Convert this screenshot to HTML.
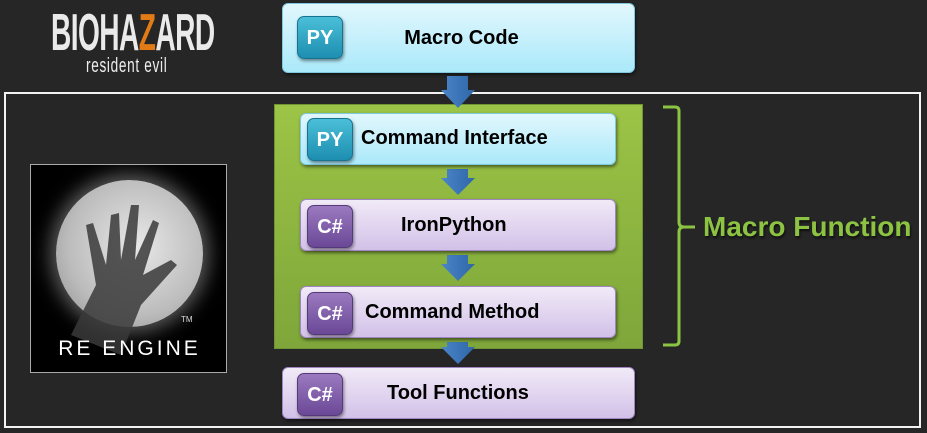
<!DOCTYPE html>
<html><head><meta charset="utf-8"><style>
*{margin:0;padding:0;box-sizing:border-box}
body{width:927px;height:433px;background:#262626;position:relative;overflow:hidden;font-family:"Liberation Sans",sans-serif}
.a{position:absolute}
.box{position:absolute;border-radius:6px;box-shadow:1px 2px 3px rgba(0,0,0,.5)}
.cyan{background:linear-gradient(#e2f7fd,#aae9fa);border:1px solid #7fc8de}
.purp{background:linear-gradient(#f1eaf7,#d2c1e8);border:1px solid #9f86c3}
.badge{position:absolute;width:46px;height:43px;border-radius:7px;color:#fff;font-weight:bold;font-size:20px;text-align:center;line-height:43px;box-shadow:1px 2px 3px rgba(0,0,0,.45)}
.py{background:linear-gradient(#4bbfd9,#1d8eb0);border:1px solid #17738f}
.cs{background:linear-gradient(#9b7ac0,#6a4896);border:1px solid #543a7a}
.t{position:absolute;font-weight:bold;font-size:20px;color:#000;white-space:nowrap}
</style></head><body>
<div class="a" style="left:51px;top:6px;height:54px;color:#eaeaea;font-weight:bold;font-size:52px;line-height:54px;white-space:nowrap"><span style="display:inline-block;transform:scaleX(0.54);transform-origin:0 0;letter-spacing:-1px">BIOHA<span style="color:#e07b16">Z</span>ARD</span></div>
<div class="a" style="left:86px;top:55px;color:#eee;font-size:20px;white-space:nowrap"><span style="display:inline-block;transform:scaleX(0.68);transform-origin:0 0;letter-spacing:1px">resident evil</span></div>

<div class="a" style="left:4px;top:92px;width:917px;height:336px;border:2px solid #f2f2f2"></div>

<div class="a" style="left:30px;top:164px;width:197px;height:209px;background:#000;border:1px solid #aaa;overflow:hidden">
 <div class="a" style="left:25px;top:15px;width:147px;height:147px;border-radius:50%;background:radial-gradient(circle at 55% 45%,#e8e8e8,#bcbcbc 60%,#8a8a8a);box-shadow:0 0 18px 6px rgba(255,255,255,.35)"></div>
 <svg class="a" style="left:0;top:0" width="197" height="209"><path d="M40 170 L65 120 L55 60 L62 58 L75 100 L80 50 L88 48 L90 95 L100 40 L108 40 L104 95 L122 55 L128 58 L112 110 L140 95 L146 100 L110 140 L90 190 Z" fill="#3a3a3a" opacity=".85"/></svg>
 <div class="a" style="left:150px;top:150px;color:#ddd;font-size:8px">TM</div>
 <div class="a" style="left:0;top:172px;width:197px;text-align:center;color:#fff;font-size:21px;letter-spacing:3px">RE ENGINE</div>
</div>

<div class="box cyan" style="left:282px;top:3px;width:353px;height:70px"><div class="badge py" style="left:14px;top:12px">PY</div><div class="t" style="left:0;width:353px;text-align:center;top:23px;padding-left:4px">Macro Code</div></div>

<div class="a" style="left:274px;top:104px;width:369px;height:245px;background:linear-gradient(#9cc446,#7ea63a);border:1px solid #6f9432"></div>

<svg class="a" style="left:0;top:0" width="927" height="433">
<defs><linearGradient id="g" x1="0" x2="1"><stop offset="0" stop-color="#4a86c8"/><stop offset="1" stop-color="#2f66a8"/></linearGradient></defs>
<g fill="url(#g)">
<path d="M447 76h21v14h7l-17 18-17-18h6z"/>
<path d="M447 169h21v9h7l-17 17-17-17h6z"/>
<path d="M447 255h21v9h7l-17 17-17-17h6z"/>
<path d="M447 342h21v5h7l-17 17-17-17h6z"/>
</g>
<path d="M663 107h12q4 0 4 4v111q0 5 5 5h11M684 227q-5 0-5 5v109q0 4-4 4h-12" fill="none" stroke="#8dc343" stroke-width="3"/>
</svg>

<div class="box cyan" style="left:300px;top:113px;width:316px;height:52px"><div class="badge py" style="left:6px;top:4px">PY</div><div class="t" style="left:60px;top:13px">Command Interface</div></div>
<div class="box purp" style="left:300px;top:199px;width:316px;height:52px"><div class="badge cs" style="left:6px;top:5px">C#</div><div class="t" style="left:100px;top:14px">IronPython</div></div>
<div class="box purp" style="left:300px;top:286px;width:316px;height:52px"><div class="badge cs" style="left:6px;top:5px">C#</div><div class="t" style="left:64px;top:14px">Command Method</div></div>
<div class="box purp" style="left:282px;top:367px;width:353px;height:52px"><div class="badge cs" style="left:14px;top:5px">C#</div><div class="t" style="left:104px;top:14px">Tool Functions</div></div>

<div class="a" style="left:703px;top:211px;color:#8dc343;font-weight:bold;font-size:28px;white-space:nowrap;text-shadow:1px 2px 2px rgba(0,0,0,.6)">Macro Function</div>
</body></html>
